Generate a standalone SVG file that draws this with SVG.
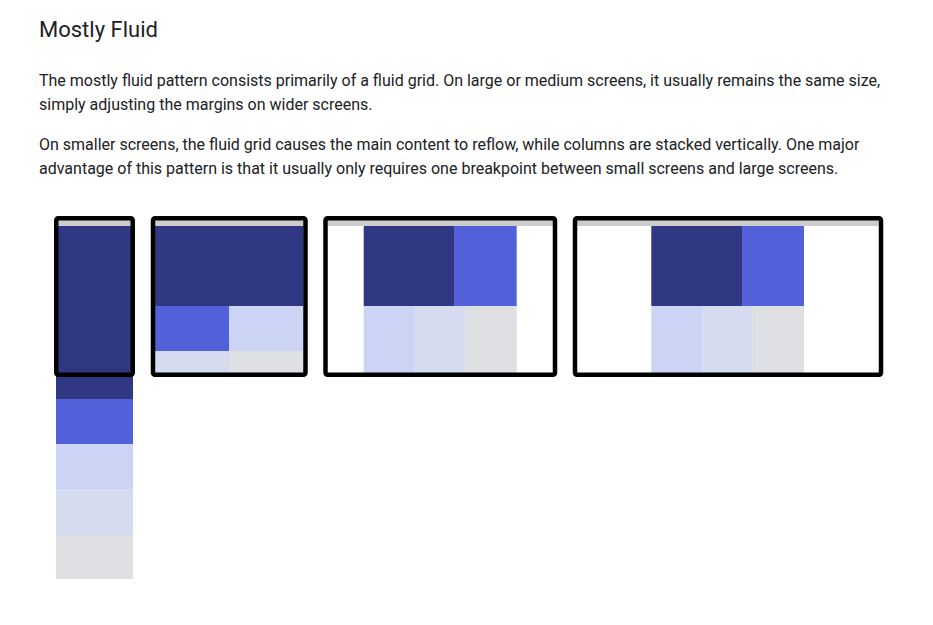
<svg xmlns="http://www.w3.org/2000/svg" width="933" height="625" viewBox="0 0 933 625">
<style>
.title{font-family:Roboto,"Liberation Sans",sans-serif;font-size:22px;fill:#202124}
.body{font-family:Roboto,"Liberation Sans",sans-serif;font-size:16px;fill:#202124}
.frame{fill:none;stroke:#000;stroke-width:4.5}
.bar{fill:#cccccc}
.c1{fill:#303783}
.c2{fill:#5260d9}
.c3{fill:#cbd4f5}
.c4{fill:#d6dcef}
.c5{fill:#dfe0e4}
</style>
<rect width="933" height="625" fill="#fff"/>
<g id="text">
<text class="title" x="39" y="37">Mostly Fluid</text>
<text class="body" x="39" y="86">The mostly fluid pattern consists primarily of a fluid grid. On large or medium screens, it usually remains the same size,</text>
<text class="body" x="39" y="110">simply adjusting the margins on wider screens.</text>
<text class="body" x="39" y="150">On smaller screens, the fluid grid causes the main content to reflow, while columns are stacked vertically. One major</text>
<text class="body" x="39" y="174">advantage of this pattern is that it usually only requires one breakpoint between small screens and large screens.</text>
</g>
<g id="small">
<rect class="c1" x="56" y="226" width="77" height="173"/>
<rect class="c2" x="56" y="399" width="77" height="45"/>
<rect class="c3" x="56" y="444" width="77" height="45"/>
<rect class="c4" x="56" y="489" width="77" height="46"/>
<rect class="c5" x="56" y="535" width="77" height="44"/>
<rect class="bar" x="58" y="220" width="73" height="6"/>
<rect class="frame" x="56.25" y="218.25" width="76.5" height="156.5" rx="2"/>
</g>
<g id="medium">
<rect class="bar" x="155" y="220" width="148.5" height="6"/>
<rect class="c1" x="155" y="226" width="148.5" height="80"/>
<rect class="c2" x="155" y="306" width="74" height="45"/>
<rect class="c3" x="229" y="306" width="74.5" height="45"/>
<rect class="c4" x="155" y="351" width="74" height="22"/>
<rect class="c5" x="229" y="351" width="74.5" height="22"/>
<rect class="frame" x="153" y="218.25" width="152.5" height="156.5" rx="2"/>
</g>
<g id="large">
<rect class="bar" x="327.5" y="220" width="225.5" height="6"/>
<rect class="c1" x="363.7" y="226" width="90.3" height="80"/>
<rect class="c2" x="454" y="226" width="62.7" height="80"/>
<rect class="c3" x="363.7" y="306" width="50.3" height="67"/>
<rect class="c4" x="414" y="306" width="51.7" height="67"/>
<rect class="c5" x="465.7" y="306" width="51" height="67"/>
<rect class="frame" x="325.5" y="218.25" width="229.5" height="156.5" rx="2"/>
</g>
<g id="xlarge">
<rect class="bar" x="577" y="220" width="301.5" height="6"/>
<rect class="c1" x="651.3" y="226" width="90.7" height="80"/>
<rect class="c2" x="742" y="226" width="62" height="80"/>
<rect class="c3" x="651.3" y="306" width="51.4" height="67"/>
<rect class="c4" x="702.7" y="306" width="50" height="67"/>
<rect class="c5" x="752.7" y="306" width="51.3" height="67"/>
<rect class="frame" x="575" y="218.25" width="306" height="156.5" rx="2"/>
</g>
<g id="connectors"/>
</svg>
